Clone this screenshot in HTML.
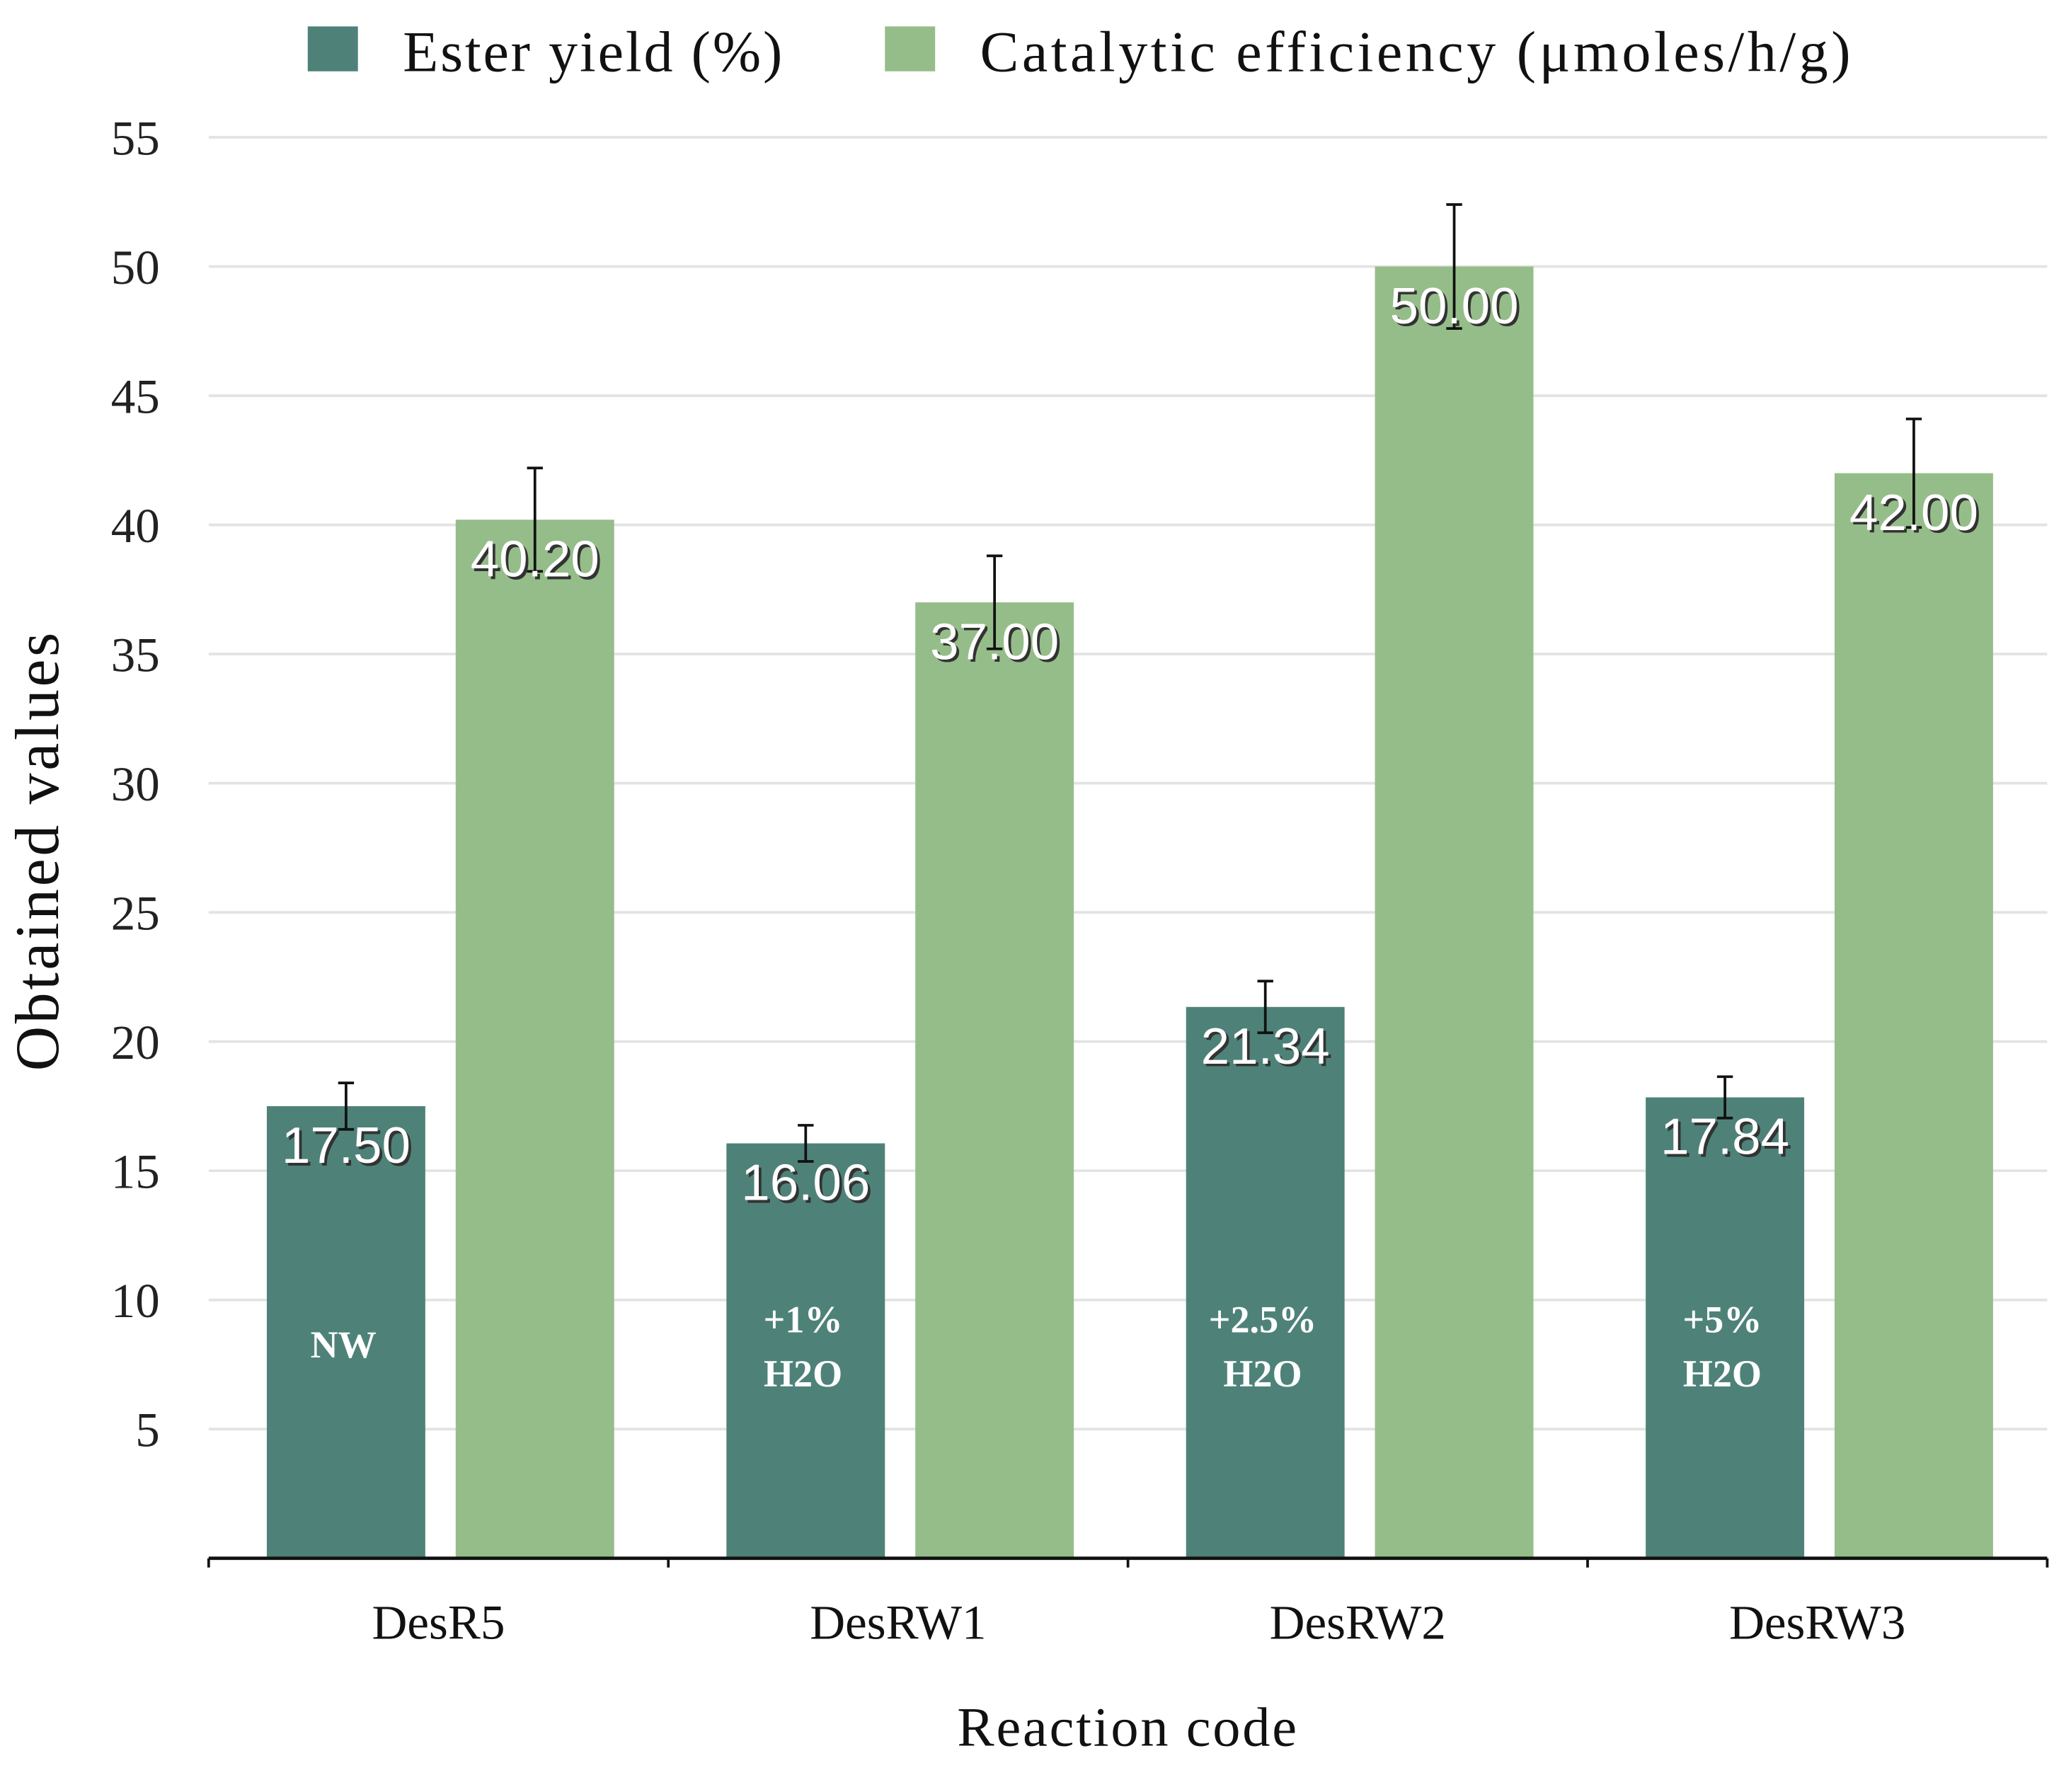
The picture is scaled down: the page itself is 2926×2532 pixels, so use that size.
<!DOCTYPE html>
<html><head><meta charset="utf-8"><style>
html,body{margin:0;padding:0;background:#fff;}
svg{display:block;}
.serif{font-family:"Liberation Serif",serif;}
.sans{font-family:"Liberation Sans",sans-serif;}
</style></head><body>
<svg id="chart" width="2926" height="2532" viewBox="0 0 1568 1357" preserveAspectRatio="none" xmlns="http://www.w3.org/2000/svg">
<g id="grid"></g>
<g id="yticks"></g>
<g id="bars"></g>
<g id="xaxis"></g>
<text class="serif" x="0" y="0" transform="translate(44,644) rotate(-90)" text-anchor="middle" font-size="47" letter-spacing="2" fill="#111">Obtained values</text>
<text class="serif" x="854" y="1322" text-anchor="middle" font-size="42" letter-spacing="1.5" fill="#111">Reaction code</text>
<g>
<rect x="233" y="20" width="38" height="34" fill="#4e8278"/>
<text class="serif" x="305" y="54" font-size="44" letter-spacing="1.5" fill="#111">Ester yield (%)</text>
<rect x="670" y="20" width="38" height="34" fill="#95bd89"/>
<text class="serif" x="742" y="54" font-size="44" letter-spacing="2.4" fill="#111">Catalytic efficiency (μmoles/h/g)</text>
</g>
</svg>
<script>
const categories = ["DesR5","DesRW1","DesRW2","DesRW3"];
const esterYield = [17.50,16.06,21.34,17.84];
const esterErr = [0.9,0.7,1.0,0.8];
const efficiency = [40.20,37.00,50.00,42.00];
const efficiencyErr = [2.0,1.8,2.4,2.1];
const innerLabels = [["NW"],["+1%","H2O"],["+2.5%","H2O"],["+5%","H2O"]];
const yTicks = [5,10,15,20,25,30,35,40,45,50,55];

const NS="http://www.w3.org/2000/svg";
const x0=158,x1=1550,yBase=1180,yTop=104,yMax=55;
const groupW=(x1-x0)/categories.length;
function yS(v){return yBase-(yBase-yTop)*v/yMax;}
function mk(tag,attrs,parent,text){const e=document.createElementNS(NS,tag);for(const k in attrs)e.setAttribute(k,attrs[k]);if(text!==undefined)e.textContent=text;parent.appendChild(e);return e;}
const grid=document.getElementById('grid'),yt=document.getElementById('yticks'),bars=document.getElementById('bars'),xa=document.getElementById('xaxis');
yTicks.forEach(t=>{
  const l=mk('line',{x1:x0,x2:x1,y1:yS(t),y2:yS(t),stroke:'#e3e3e3','stroke-width':2},grid);
  
  
  const tx=mk('text',{x:121,y:yS(t)+13,'text-anchor':'end','font-size':37,fill:'#222',class:'serif'},yt,String(t));
  
  
});
function bar(cx,v,err,color,name){
  const w=120,top=yS(v);
  const r=mk('rect',{x:cx,y:top,width:w,height:yBase-top,fill:color},bars);
  
  
  const mid=cx+w/2;
  const eb=mk('path',{d:`M${mid},${yS(v+err)}V${yS(v-err)}M${mid-6},${yS(v+err)}H${mid+6}M${mid-6},${yS(v-err)}H${mid+6}`,stroke:'#111','stroke-width':2,fill:'none'},bars);
  
  
  const sh=mk('text',{x:mid+2,y:top+45,'text-anchor':'middle','font-size':39,fill:'#333',class:'sans'},bars,v.toFixed(2));
  
  
  const lb=mk('text',{x:mid,y:top+43,'text-anchor':'middle','font-size':39,fill:'#fff',class:'sans'},bars,v.toFixed(2));
  
  
}
categories.forEach((c,i)=>{
  const g=x0+i*groupW;
  bar(g+44,esterYield[i],esterErr[i],'#4e8278','bar-ester-'+c);
  bar(g+187,efficiency[i],efficiencyErr[i],'#95bd89','bar-efficiency-'+c);
  const lines=innerLabels[i];
  lines.forEach((s,j)=>{
    const y=lines.length===1?1028:1009+j*41;
    const t=mk('text',{x:g+102,y:y,'text-anchor':'middle','font-size':29,'font-weight':'bold',fill:'#fff',class:'serif'},bars,s);
    
    
  });
  const xl=mk('text',{x:g+groupW/2,y:1241,'text-anchor':'middle','font-size':37,fill:'#111',class:'serif'},xa,c);
  
  
});
const ax=mk('line',{x1:x0,x2:x1,y1:yBase,y2:yBase,stroke:'#111','stroke-width':2.5},xa);


for(let i=0;i<=categories.length;i++){
  const tk=mk('line',{x1:x0+i*groupW,x2:x0+i*groupW,y1:yBase,y2:yBase+7,stroke:'#111','stroke-width':2},xa);
  
  
}
</script>
</body></html>
